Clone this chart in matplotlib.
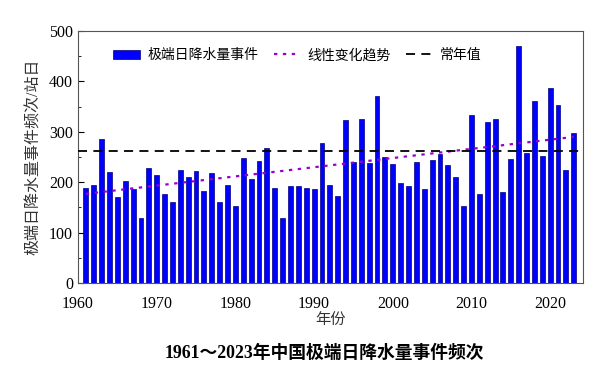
import matplotlib
matplotlib.use("Agg")
import matplotlib.pyplot as plt
from matplotlib.ticker import MultipleLocator

plt.rcParams['font.family'] = ['Liberation Serif', 'Noto Sans CJK SC']

# Data
years = list(range(1961, 2024))
counts = [189, 194, 286, 221, 170, 202, 186, 130, 228, 215,
          176, 160, 225, 210, 223, 182, 218, 160, 195, 153,
          248, 206, 242, 268, 189, 130, 193, 192, 189, 187,
          277, 194, 173, 323, 240, 325, 238, 372, 250, 236,
          199, 192, 240, 187, 244, 257, 234, 210, 153, 333,
          176, 320, 325, 180, 246, 471, 259, 361, 253, 387,
          353, 225, 297]
normal_value = 263
trend_years = [1961, 2023]
trend_values = [177, 290]

fig = plt.figure(figsize=(6, 3.7), dpi=100)
ax = fig.add_axes([0.13, 0.235, 0.842, 0.681])

bars = ax.bar(years, counts, width=0.62, color='#0000ff', edgecolor='#000080',
              linewidth=0.5, label='极端日降水量事件', zorder=2)
trend, = ax.plot(trend_years, trend_values, linestyle=(0, (1.5, 2.5)),
                 color='#9900cc', linewidth=1.6, label='线性变化趋势', zorder=3)
normal = ax.axhline(normal_value, linestyle=(0, (5, 3.5)), color='black',
                    linewidth=1.3, label='常年值', zorder=3)

ax.set_xlim(1960, 2024.2)
ax.set_ylim(0, 500)
ax.xaxis.set_major_locator(MultipleLocator(10))
ax.yaxis.set_major_locator(MultipleLocator(100))
ax.yaxis.set_minor_locator(MultipleLocator(50))
ax.tick_params(axis='both', direction='in', labelsize=11.5, length=4)
ax.tick_params(axis='y', which='minor', direction='in', length=2.5)
ax.tick_params(axis='x', length=0, pad=9)
for s in ax.spines.values():
    s.set_color('#555555')
    s.set_linewidth(0.8)

ax.set_ylabel('极端日降水量事件频次/站日', fontsize=11.5, labelpad=5,
              color='#333333')
ax.set_xlabel('年份', fontsize=11, labelpad=1, color='#333333')
fig.text(0.54, 0.045, '1961～2023年中国极端日降水量事件频次',
         ha='center', va='center', fontsize=12.8, fontweight='bold')

ax.legend(handles=[bars, trend, normal], loc='upper left', ncol=3,
          frameon=False, fontsize=10, bbox_to_anchor=(0.045, 0.98),
          handlelength=1.9, columnspacing=1.1, handletextpad=0.55)

fig.savefig('out.png', dpi=100)
